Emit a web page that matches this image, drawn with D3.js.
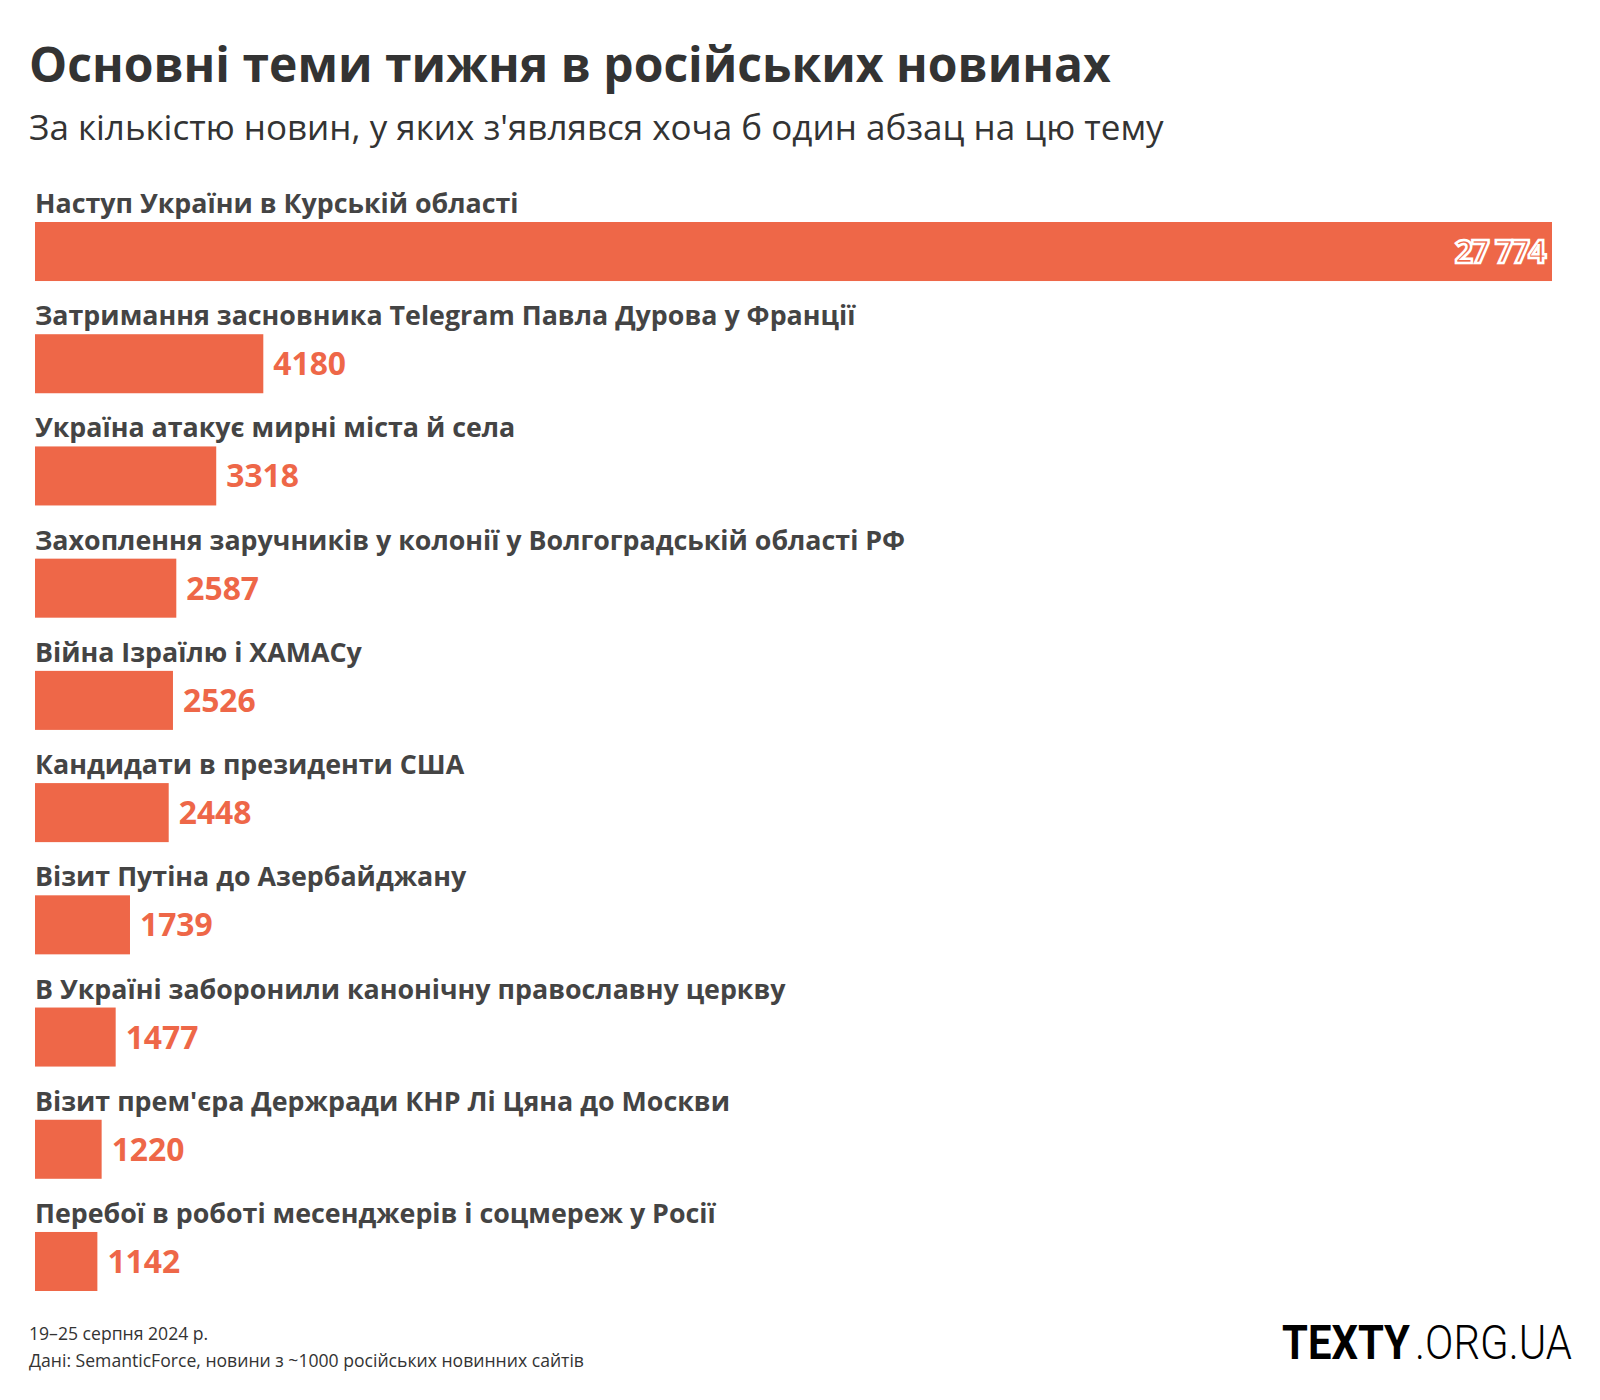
<!DOCTYPE html>
<html><head><meta charset="utf-8">
<script src="https://cdn.jsdelivr.net/npm/d3@7"></script>
<style>body{margin:0;background:#fff;} svg{display:block;}</style>
</head><body>
<svg id="chart" width="1600" height="1400"></svg>
<script>
const categories = [
  "Наступ України в Курській області",
  "Затримання засновника Telegram Павла Дурова у Франції",
  "Україна атакує мирні міста й села",
  "Захоплення заручників у колонії у Волгоградській області РФ",
  "Війна Ізраїлю і ХАМАСу",
  "Кандидати в президенти США",
  "Візит Путіна до Азербайджану",
  "В Україні заборонили канонічну православну церкву",
  "Візит прем'єра Держради КНР Лі Цяна до Москви",
  "Перебої в роботі месенджерів і соцмереж у Росії"
];
const values = [27774, 4180, 3318, 2587, 2526, 2448, 1739, 1477, 1220, 1142];
const titleText = "Основні теми тижня в російських новинах";
const subtitleText = "За кількістю новин, у яких з'являвся хоча б один абзац на цю тему";
const footerLines = ["19–25 серпня 2024 р.", "Дані: SemanticForce, новини з ~1000 російських новинних сайтів"];
const logoParts = ["TEXTY", ".ORG.UA"];

const FONT = "Open Sans";
const BAR = "#ee6748";
const svg = d3.select("#chart");
const data = categories.map((c, i) => ({c, v: values[i]}));

const x = d3.scaleLinear().domain([0, d3.max(values)]).range([35, 1552]);
const y = d3.scaleBand().domain(categories).range([222, 1291]).paddingInner(0.474).paddingOuter(0);

svg.append("text").attr("x", 29).attr("y", 82).attr("font-family", FONT).attr("font-weight", 700)
  .attr("font-size", 48).attr("fill", "#333").text(titleText);
svg.append("text").attr("x", 29).attr("y", 140).attr("font-family", FONT).attr("font-weight", 400)
  .attr("font-size", 35).attr("fill", "#333").text(subtitleText);

const g = svg.append("g");
const row = g.selectAll("g.row").data(data).join("g").attr("class", "row");
row.append("text").attr("x", x(0)).attr("y", d => y(d.c) - 9)
  .attr("font-family", FONT).attr("font-weight", 700).attr("font-size", 26.8).attr("fill", "#444")
  .text(d => d.c);
row.append("rect").attr("x", x(0)).attr("y", d => y(d.c))
  .attr("width", d => x(d.v) - x(0)).attr("height", y.bandwidth()).attr("fill", BAR);

const fmtBig = d3.formatLocale({decimal: ",", thousands: " ", grouping: [3], currency: ["", ""]}).format(",d");
const fmt = v => v >= 10000 ? fmtBig(v) : String(v);
const maxV = d3.max(values);
row.append("text")
  .attr("x", d => d.v === maxV ? x(d.v) - 7 : x(d.v) + 10)
  .attr("y", d => y(d.c) + 41)
  .attr("text-anchor", d => d.v === maxV ? "end" : "start")
  .attr("font-family", FONT).attr("font-weight", 700).attr("font-size", 31.8)
  .attr("letter-spacing", d => d.v === maxV ? -1.5 : 0)
  .attr("fill", BAR)
  .attr("stroke", d => d.v === maxV ? "#fff" : "none")
  .attr("stroke-width", 2.5)
  .text(d => fmt(d.v));

svg.selectAll("text.foot").data(footerLines).join("text").attr("class", "foot")
  .attr("x", 29).attr("y", (d, i) => 1340 + i * 27)
  .attr("font-family", FONT).attr("font-size", 17.6).attr("fill", "#333").text(d => d);

// logo: two parts, horizontally condensed to match the reference wordmark
[[logoParts[0], 700, 1282, 128], [logoParts[1], 300, 1415, 157]].forEach(([t, w, x0, target]) => {
  const tx = svg.append("text").attr("font-family", "Roboto").attr("font-weight", w)
    .attr("font-size", 48).attr("fill", "#000").text(t);
  const nat = tx.node().getComputedTextLength();
  tx.attr("transform", `translate(${x0},1359) scale(${target / nat},1)`);
});
</script>
</body></html>
